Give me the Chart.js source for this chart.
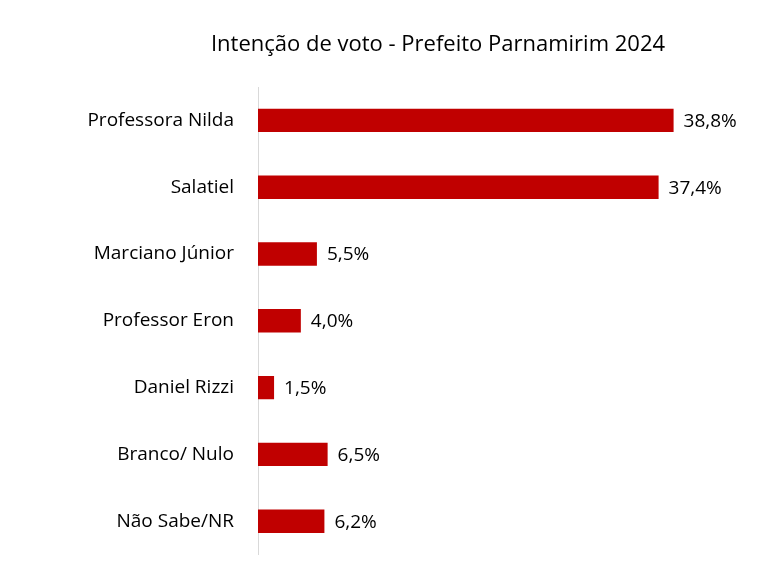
<!DOCTYPE html>
<html><head><meta charset="utf-8">
<script src="https://cdn.jsdelivr.net/npm/chart.js@4/dist/chart.umd.min.js"></script>
<style>html,body{margin:0;padding:0;background:#fff;overflow:hidden}canvas{display:block}</style>
</head><body><canvas id="c" width="777" height="582" style="width:777px;height:582px"></canvas>
<script>
const categories = ["Professora Nilda","Salatiel","Marciano Júnior","Professor Eron","Daniel Rizzi","Branco/ Nulo","Não Sabe/NR"];
const values = [38.8,37.4,5.5,4.0,1.5,6.5,6.2];
const valueLabels = ["38,8%","37,4%","5,5%","4,0%","1,5%","6,5%","6,2%"];
const titleText = "Intenção de voto - Prefeito Parnamirim 2024";
const FONT = "'Open Sans', 'Liberation Sans', sans-serif";

const labelsPlugin = {
  id:'lbl',
  afterDatasetsDraw(chart){
    const ctx = chart.ctx, meta = chart.getDatasetMeta(0);
    ctx.save();
    ctx.font = "19px " + FONT; ctx.fillStyle = "#000"; ctx.textBaseline = "middle"; ctx.textAlign = "left";
    meta.data.forEach((b,i)=>ctx.fillText(valueLabels[i], b.x + 10, b.y + 1));
    ctx.font = "22px " + FONT; ctx.textAlign = "center";
    ctx.fillText(titleText, 438, 45);
    ctx.restore();
  }
};

new Chart(document.getElementById('c'), {
  type:'bar',
  data:{labels:categories, datasets:[{data:values, backgroundColor:'#c00000', barPercentage:0.7, categoryPercentage:0.5}]},
  options:{
    indexAxis:'y', responsive:false, animation:false, devicePixelRatio:1,
    layout:{padding:{top:87,bottom:11,right:37,left:0}},
    plugins:{legend:{display:false}, tooltip:{enabled:false}},
    scales:{
      x:{display:false, min:0, max:45},
      y:{grid:{display:false}, border:{display:true,color:'#d9d9d9'},
         ticks:{color:'#000', font:{size:19, family:FONT}, padding:16},
         afterFit(s){ s.width = 258; }}
    }
  },
  plugins:[labelsPlugin]
});
</script></body></html>
